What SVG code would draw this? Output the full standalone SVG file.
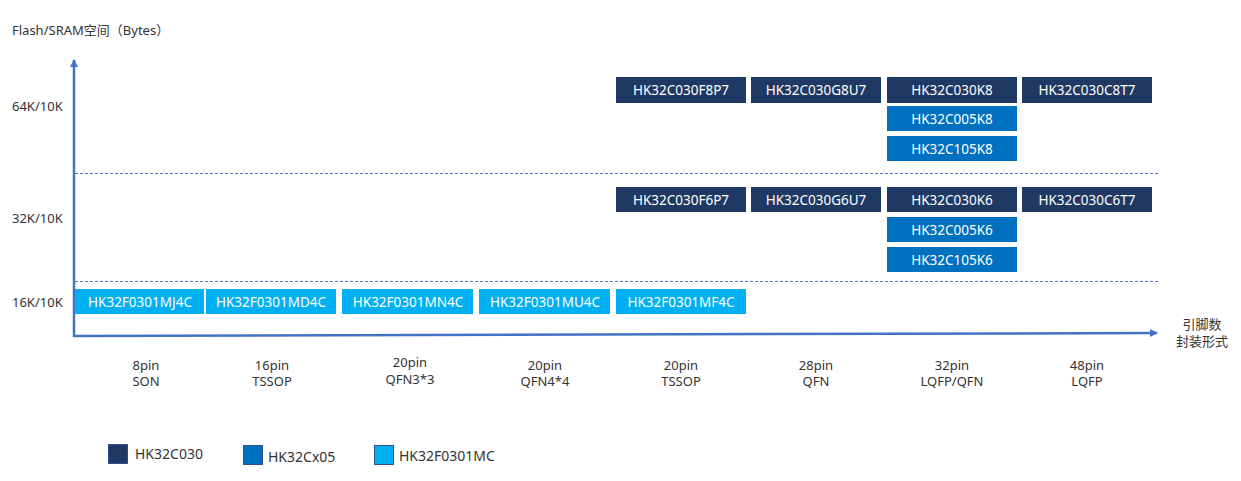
<svg xmlns="http://www.w3.org/2000/svg" width="1241" height="481" viewBox="0 0 1241 481">
<style>
text{font-family:"Noto Sans","Noto Sans CJK SC",sans-serif;font-size:13px;fill:#333}
.bt{fill:#fff;text-anchor:middle;font-size:13.5px}
.c1{fill:#1F3864}
.c2{fill:#0070C0}
.c3{fill:#00B0F0}
.ax{stroke:#4472C4;stroke-width:2.5;fill:none}
.dash{stroke:#4472C4;stroke-width:1;stroke-dasharray:3,2;fill:none}
.cat{text-anchor:middle}
</style>
<defs>
<marker id="ar" markerWidth="8" markerHeight="8" refX="7" refY="4" orient="auto" markerUnits="userSpaceOnUse"><path d="M0,0 L8,4 L0,8 Z" fill="#4472C4"/></marker>
</defs>
<rect width="1241" height="481" fill="#fff"/>
<text x="12" y="35">Flash/SRAM空间（Bytes）</text>
<text x="12" y="111">64K/10K</text>
<text x="12" y="223">32K/10K</text>
<text x="12" y="307">16K/10K</text>
<g id="connectors">
<line class="ax" x1="74" y1="337" x2="74" y2="60" marker-end="url(#ar)"/>
<line class="ax" x1="73" y1="336" x2="1157" y2="333" marker-end="url(#ar)"/>
<line class="dash" x1="75" y1="173.5" x2="1158" y2="173.5"/>
<line class="dash" x1="75" y1="281.5" x2="1158" y2="281.5"/>
</g>
<g id="n-F8P7"><rect class="c1" x="616" y="77" width="130" height="26"/><text class="bt" x="681" y="95">HK32C030F8P7</text></g>
<g id="n-G8U7"><rect class="c1" x="751" y="77" width="130" height="26"/><text class="bt" x="816" y="95">HK32C030G8U7</text></g>
<g id="n-K8"><rect class="c1" x="887" y="77" width="130" height="26"/><text class="bt" x="952" y="95">HK32C030K8</text></g>
<g id="n-C8T7"><rect class="c1" x="1022" y="77" width="130" height="26"/><text class="bt" x="1087" y="95">HK32C030C8T7</text></g>
<g id="n-005K8"><rect class="c2" x="887" y="106" width="130" height="25"/><text class="bt" x="952" y="123.5">HK32C005K8</text></g>
<g id="n-105K8"><rect class="c2" x="887" y="136" width="130" height="25"/><text class="bt" x="952" y="153.5">HK32C105K8</text></g>
<g id="n-F6P7"><rect class="c1" x="616" y="187" width="130" height="25"/><text class="bt" x="681" y="204.5">HK32C030F6P7</text></g>
<g id="n-G6U7"><rect class="c1" x="751" y="187" width="130" height="25"/><text class="bt" x="816" y="204.5">HK32C030G6U7</text></g>
<g id="n-K6"><rect class="c1" x="887" y="187" width="130" height="25"/><text class="bt" x="952" y="204.5">HK32C030K6</text></g>
<g id="n-C6T7"><rect class="c1" x="1022" y="187" width="130" height="25"/><text class="bt" x="1087" y="204.5">HK32C030C6T7</text></g>
<g id="n-005K6"><rect class="c2" x="887" y="217" width="130" height="25"/><text class="bt" x="952" y="234.5">HK32C005K6</text></g>
<g id="n-105K6"><rect class="c2" x="887" y="247" width="130" height="25"/><text class="bt" x="952" y="264.5">HK32C105K6</text></g>
<g id="n-MJ4C"><rect class="c3" x="75" y="289" width="129" height="25"/><text class="bt" x="140" y="306.5">HK32F0301MJ4C</text></g>
<g id="n-MD4C"><rect class="c3" x="206" y="289" width="130" height="25"/><text class="bt" x="271" y="306.5">HK32F0301MD4C</text></g>
<g id="n-MN4C"><rect class="c3" x="342" y="289" width="131" height="25"/><text class="bt" x="408" y="306.5">HK32F0301MN4C</text></g>
<g id="n-MU4C"><rect class="c3" x="479" y="289" width="131" height="25"/><text class="bt" x="545" y="306.5">HK32F0301MU4C</text></g>
<g id="n-MF4C"><rect class="c3" x="616" y="289" width="130" height="25"/><text class="bt" x="681" y="306.5">HK32F0301MF4C</text></g>
<text class="cat" x="1202" y="329">引脚数</text>
<text class="cat" x="1202" y="346">封装形式</text>
<g class="cats">
<text class="cat" x="146" y="370">8pin</text><text class="cat" x="146" y="386">SON</text>
<text class="cat" x="272" y="370">16pin</text><text class="cat" x="272" y="386">TSSOP</text>
<text class="cat" x="410" y="367">20pin</text><text class="cat" x="410" y="384">QFN3*3</text>
<text class="cat" x="545" y="370">20pin</text><text class="cat" x="545" y="386">QFN4*4</text>
<text class="cat" x="681" y="370">20pin</text><text class="cat" x="681" y="386">TSSOP</text>
<text class="cat" x="816" y="370">28pin</text><text class="cat" x="816" y="386">QFN</text>
<text class="cat" x="952" y="370">32pin</text><text class="cat" x="952" y="386">LQFP/QFN</text>
<text class="cat" x="1087" y="370">48pin</text><text class="cat" x="1087" y="386">LQFP</text>
</g>
<g id="legend">
<rect class="c1" x="108.5" y="444.5" width="19" height="19" stroke="#2F4F8F" stroke-width="1"/>
<text x="135" y="459" style="font-size:14px">HK32C030</text>
<rect class="c2" x="243.5" y="445.5" width="19" height="19" stroke="#2F4F8F" stroke-width="1"/>
<text x="268" y="462" style="font-size:14px">HK32Cx05</text>
<rect class="c3" x="374.5" y="445.5" width="19" height="19" stroke="#2F4F8F" stroke-width="1"/>
<text x="399" y="461" style="font-size:14px">HK32F0301MC</text>
</g>
</svg>
